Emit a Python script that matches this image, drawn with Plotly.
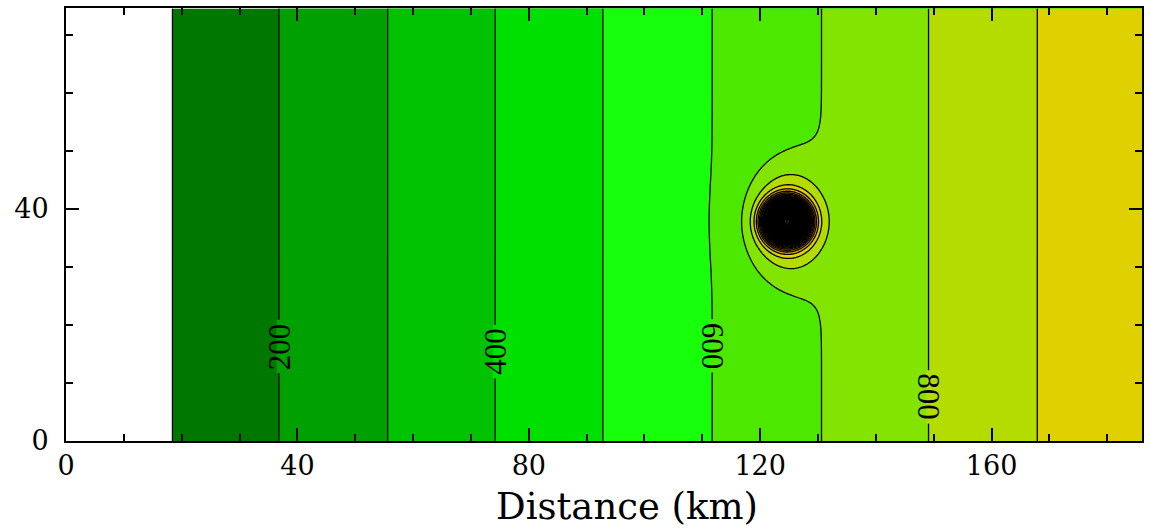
import numpy as np
import plotly.graph_objects as go

# ---- data ----
# background field: value of each contour level and the distance (km) where it crosses
level_values = [0, 100, 200, 300, 400, 500, 600, 700, 800, 900, 1000]
level_x_km = [0.0, 18.4, 36.8, 55.6, 74.2, 92.8, 111.7, 130.6, 149.1, 167.9, 186.5]

# anomaly (dark blob) near x = 125 km, y = 38
anomaly_center = [124.6, 37.8]
broad_peak = 365
broad_width = [4.3, 5.6]
core_peak = 6000
core_width = 2.0

# contour labels drawn on the plot: level, height, text rotation
label_levels = [200, 400, 600, 800]
label_heights = [16.3, 15.4, 16.4, 7.6]
label_angles = [-90, -90, 90, 90]

x_range = [0, 186]
y_range = [0, 74.6]
x_major, x_minor = 40, 10
y_major, y_minor = 40, 10

# colours of each band: below 100, 100-200, ..., 900-1000, 1000-1100, 1100-1200, above
band_colors = ["#ffffff", "#007800", "#00a000", "#00c200", "#00e000", "#18ff0c",
               "#4ce800", "#82e400", "#b4dc00", "#e1d000", "#e0b000", "#d89000"]
deep_color = "#c87800"

contour_start, contour_step, contour_end = 100, 100, 7000

# ---- build the field ----
xs = np.arange(x_range[0], x_range[1] + 0.001, 0.25)
ys = np.arange(y_range[0], y_range[1] + 0.001, 0.25)
X, Y = np.meshgrid(xs, ys)
base = np.interp(X, level_x_km, level_values)
dx = X - anomaly_center[0]
dy = Y - anomaly_center[1]
broad = broad_peak * np.exp(-(dx ** 2) / (2 * broad_width[0] ** 2) - (dy ** 2) / (2 * broad_width[1] ** 2))
core = core_peak * np.exp(-(dx ** 2 + dy ** 2) / (2 * core_width ** 2))
Z = base + broad + core

n_levels = int(round((contour_end - contour_start) / contour_step)) + 1
colorscale = []
for k in range(n_levels + 1):
    c = band_colors[k] if k < len(band_colors) else deep_color
    colorscale.append([k / n_levels, c])

fig = go.Figure()
fig.add_trace(go.Contour(
    x=xs, y=ys, z=Z,
    autocontour=False,
    contours=dict(start=contour_start, end=contour_end, size=contour_step,
                  coloring="fill", showlines=True),
    line=dict(color="black", width=1.3, smoothing=0),
    colorscale=colorscale, showscale=False, hoverinfo="skip",
))

# contour labels with a gap cut in the line
for lev, h, ang in zip(label_levels, label_heights, label_angles):
    lx = float(np.interp(lev, level_values, level_x_km))
    left_band = band_colors[lev // contour_step]
    fig.add_shape(type="rect", x0=lx - 0.4, x1=lx + 0.4, y0=h - 4.6, y1=h + 4.6,
                  fillcolor=left_band, line_width=0, layer="above")
    fig.add_annotation(x=lx, y=h, text=str(lev), textangle=ang, showarrow=False,
                       font=dict(family="Liberation Serif", size=31, color="black"))

fig.add_annotation(x=97, y=-0.152, xref="x", yref="paper", text="Distance (km)",
                   showarrow=False, yanchor="middle",
                   font=dict(family="DejaVu Serif", size=37, color="black"))

axis_common = dict(showline=True, linecolor="black", linewidth=2, mirror="allticks",
                   ticks="inside", ticklen=13, tickwidth=2, tickcolor="black",
                   showgrid=False, zeroline=False,
                   tickfont=dict(family="DejaVu Serif", size=27, color="black"))
fig.update_xaxes(range=x_range, dtick=x_major, tick0=0,
                 minor=dict(ticks="inside", ticklen=7, tickwidth=2, dtick=x_minor, tickcolor="black"),
                 ticklabelstandoff=0, **axis_common)
fig.update_yaxes(range=y_range, dtick=y_major, tick0=0,
                 minor=dict(ticks="inside", ticklen=7, tickwidth=2, dtick=y_minor, tickcolor="black"),
                 ticklabelstandoff=10, **axis_common)

fig.update_layout(width=1150, height=531, margin=dict(l=66, r=6, t=8, b=90),
                  paper_bgcolor="white", plot_bgcolor="white", showlegend=False)

fig.write_html("out.html")
